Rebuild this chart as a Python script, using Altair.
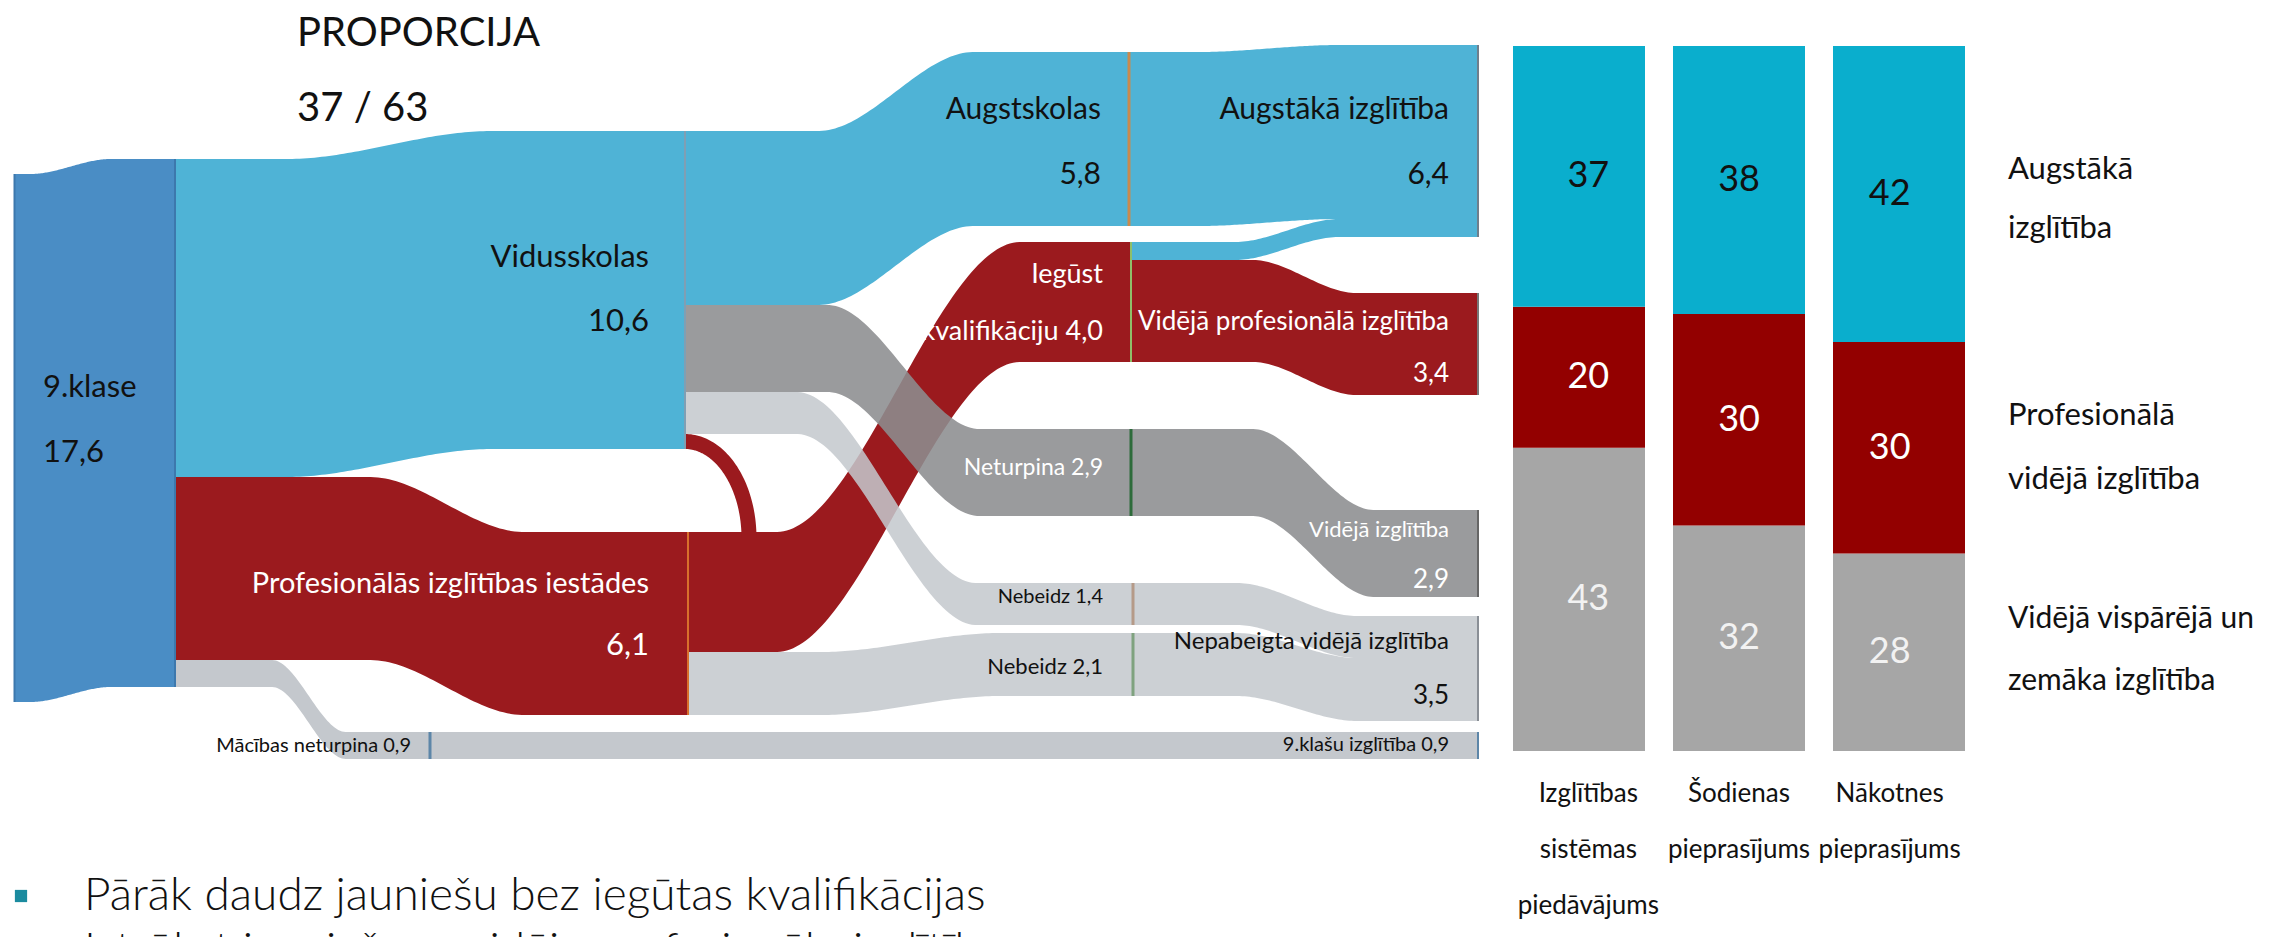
import altair as alt
import numpy as np
import pandas as pd
from collections import defaultdict

# ---------------- data ----------------
node_names = ["9.klase", "Vidusskolas", "Profesionālās izglītības iestādes", "Mācības neturpina",
              "Augstskolas", "Iegūst kvalifikāciju", "Neturpina", "Nebeidz (vidusskola)", "Nebeidz (prof.)",
              "Augstākā izglītība", "Vidējā profesionālā izglītība", "Vidējā izglītība",
              "Nepabeigta vidējā izglītība", "9.klašu izglītība"]
node_values = [17.6, 10.6, 6.1, 0.9, 5.8, 4.0, 2.9, 1.4, 2.1, 6.4, 3.4, 2.9, 3.5, 0.9]

link_source = [0, 0, 0, 1, 1, 1, 1, 2, 2, 3, 4, 5, 5, 6, 7, 8]
link_target = [1, 2, 3, 4, 6, 7, 2, 5, 8, 13, 9, 9, 10, 11, 12, 12]
link_value = [10.6, 6.1, 0.9, 5.8, 2.9, 1.4, 0.5, 4.0, 2.1, 0.9, 5.8, 0.6, 3.4, 2.9, 1.4, 2.1]
link_group = ["vid", "prof", "none", "vid", "stop", "drop", "prof", "prof", "drop", "none",
              "vid", "vid", "prof", "stop", "drop", "drop"]

bar_categories = ["Izglītības sistēmas piedāvājums", "Šodienas pieprasījums", "Nākotnes pieprasījums"]
bar_higher = [37, 38, 42]
bar_vocational = [20, 30, 30]
bar_general = [43, 32, 28]
segment_names = ["Vidējā vispārējā un zemāka izglītība", "Profesionālā vidējā izglītība", "Augstākā izglītība"]

# ---------------- layout / style ----------------
W, H = 2256, 929
XS = alt.Scale(domain=[8, 8 + W], nice=False, zero=False)
YS = alt.Scale(domain=[8, 8 + H], reverse=True, nice=False, zero=False)
PX = 30.0  # pixels per value unit

node_x = {0: 175, 1: 685, 2: 688, 3: 430, 4: 1129, 5: 1131, 6: 1131, 7: 1133, 8: 1133,
          9: 1478, 10: 1478, 11: 1478, 12: 1478, 13: 1478}
node_top = {0: 159, 1: 131, 2: 532, 3: 732, 4: 52, 5: 242, 6: 429, 7: 583, 8: 633,
            9: 45, 10: 293, 11: 510, 12: 616, 13: 732}
intake_x, intake_top = 14.5, 174
link_window = [(0.22, 0.62), (0.38, 0.68), (0.38, 0.67), (0.3, 0.65), (0.32, 0.66), (0.25, 0.65), None,
               (0.2, 0.75), (0.3, 0.7), (0.0, 1.0), (0.2, 0.6), (0.3, 0.6), (0.35, 0.65), (0.35, 0.7),
               (0.3, 0.65), (0.3, 0.65)]
LOOP = 6
loop_reach = 64
draw_order = [0, 1, 2, 9, 3, 7, 8, 4, 5, 6, 10, 11, 12, 13, 14, 15]
group_color = {"vid": "#4fb3d6", "prof": "#9b1a1e", "stop": "#8c8d90", "drop": "#c4c8cd", "none": "#c4c8cd"}
group_opacity = {"vid": 1.0, "prof": 1.0, "stop": 0.88, "drop": 0.86, "none": 1.0}
marker_color = {0: "#3d78ad", 1: "#7f9fb4", 2: "#d8702c", 3: "#5d86a8", 4: "#c98a4e", 5: "#8fbf68",
                6: "#2d6b3a", 7: "#b59a88", 8: "#7fa27f", 9: "#6f7f8c", 10: "#777777", 11: "#666666",
                12: "#8a8f96", 13: "#5d86a8"}

NARROW = "Lato"
BODY = "Lato"


def band(x0, x1, y0, y1, w, a, b, n=140):
    xs = np.linspace(x0, x1, n)
    xa, xb = x0 + a * (x1 - x0), x0 + b * (x1 - x0)
    t = np.clip((xs - xa) / max(xb - xa, 1e-6), 0, 1)
    s = t * t * (3 - 2 * t)
    yt = y0 + (y1 - y0) * s
    return pd.DataFrame({"x": xs, "y": yt, "y2": yt + w})


def area_layer(df, color, opacity=1.0):
    return alt.Chart(df).mark_area(color=color, opacity=opacity, interpolate="linear").encode(
        x=alt.X("x:Q", scale=XS, axis=None),
        y=alt.Y("y:Q", scale=YS, axis=None),
        y2="y2:Q",
    )


layers = []

# intake band (9.klase)
layers.append(area_layer(band(intake_x, node_x[0], intake_top, node_top[0], node_values[0] * PX, 0.1, 0.6),
                         "#4a8dc5"))

# stacked offsets
out_off, in_off = {}, {}
sacc, tacc = defaultdict(float), defaultdict(float)
for i, (s, t, v) in enumerate(zip(link_source, link_target, link_value)):
    out_off[i] = sacc[s]
    sacc[s] += v
    if i != LOOP:
        in_off[i] = tacc[t]
        tacc[t] += v

for i in draw_order:
    s, t, v, g = link_source[i], link_target[i], link_value[i], link_group[i]
    w = v * PX
    if i == LOOP:
        th = np.linspace(0, np.pi / 2, 60)
        ys0 = node_top[s] + out_off[i] * PX + w / 2
        ye = node_top[t] + 6
        df = pd.DataFrame({"x": node_x[s] + loop_reach * np.sin(th),
                           "y": ye - (ye - ys0) * np.cos(th), "i": np.arange(60)})
        layers.append(alt.Chart(df).mark_line(color=group_color[g], strokeWidth=w, strokeCap="butt").encode(
            x=alt.X("x:Q", scale=XS, axis=None), y=alt.Y("y:Q", scale=YS, axis=None), order="i:Q"))
        continue
    a, b = link_window[i]
    df = band(node_x[s], node_x[t], node_top[s] + out_off[i] * PX, node_top[t] + in_off[i] * PX, w, a, b)
    layers.append(area_layer(df, group_color[g], group_opacity[g]))

# node markers
mk = []
for k in range(1, len(node_names)):
    mk.append(dict(x=node_x[k], y=node_top[k], y2=node_top[k] + node_values[k] * PX, c=marker_color[k],
                   w=3 if k in (3, 4, 6, 7, 8) else 2))
mk.append(dict(x=node_x[0], y=node_top[0], y2=node_top[0] + node_values[0] * PX, c=marker_color[0], w=2))
mk.append(dict(x=intake_x, y=intake_top, y2=intake_top + node_values[0] * PX, c=marker_color[0], w=2))
mk_df = pd.DataFrame(mk)
for wv in sorted(mk_df.w.unique()):
    layers.append(alt.Chart(mk_df[mk_df.w == wv]).mark_rule(strokeWidth=float(wv)).encode(
        x=alt.X("x:Q", scale=XS, axis=None), y=alt.Y("y:Q", scale=YS, axis=None), y2="y2:Q",
        color=alt.Color("c:N", scale=None)))

# ---------------- text labels (pixel coords) ----------------
BLACK, WHITE = "#111111", "#ffffff"
labels = [
    ("PROPORCIJA", 297, 34, "left", BLACK, 40, NARROW),
    ("37 / 63", 297, 109, "left", BLACK, 40, NARROW),
    ("9.klase", 43, 388, "left", BLACK, 31, NARROW),
    ("17,6", 43, 453, "left", BLACK, 31, NARROW),
    ("Vidusskolas", 649, 258, "right", BLACK, 31, NARROW),
    ("10,6", 649, 322, "right", BLACK, 31, NARROW),
    ("Profesionālās izglītības iestādes", 649, 584, "right", WHITE, 29, NARROW),
    ("6,1", 649, 646, "right", WHITE, 31, NARROW),
    ("Mācības neturpina 0,9", 411, 746, "right", BLACK, 20, NARROW),
    ("Augstskolas", 1101, 110, "right", BLACK, 30, NARROW),
    ("5,8", 1101, 175, "right", BLACK, 30, NARROW),
    ("Augstākā izglītība", 1449, 110, "right", BLACK, 30, NARROW),
    ("6,4", 1449, 175, "right", BLACK, 30, NARROW),
    ("Iegūst", 1103, 275, "right", WHITE, 27, NARROW),
    ("kvalifikāciju  4,0", 1103, 332, "right", WHITE, 27, NARROW),
    ("Vidējā profesionālā izglītība", 1449, 322, "right", WHITE, 26, NARROW),
    ("3,4", 1449, 374, "right", WHITE, 26, NARROW),
    ("Neturpina  2,9", 1103, 468, "right", WHITE, 23, NARROW),
    ("Vidējā izglītība", 1449, 530, "right", WHITE, 22, NARROW),
    ("2,9", 1449, 580, "right", WHITE, 26, NARROW),
    ("Nebeidz 1,4", 1103, 597, "right", BLACK, 20, NARROW),
    ("Nebeidz 2,1", 1103, 667, "right", BLACK, 22, NARROW),
    ("Nepabeigta vidējā izglītība", 1449, 642, "right", BLACK, 24, NARROW),
    ("3,5", 1449, 696, "right", BLACK, 26, NARROW),
    ("9.klašu izglītība 0,9", 1449, 745, "right", BLACK, 20, NARROW),
    ("Augstākā", 2008, 170, "left", BLACK, 31, NARROW),
    ("izglītība", 2008, 229, "left", BLACK, 31, NARROW),
    ("Profesionālā", 2008, 416, "left", BLACK, 31, NARROW),
    ("vidējā izglītība", 2008, 480, "left", BLACK, 31, NARROW),
    ("Vidējā vispārējā un", 2008, 619, "left", BLACK, 30, NARROW),
    ("zemāka izglītība", 2008, 681, "left", BLACK, 30, NARROW),
]
body_labels = [
    ("Pārāk daudz jauniešu bez iegūtas kvalifikācijas", 84, 896),
    ("Iztrūkst jauniešu ar vidējo profesionālo izglītību", 84, 951),
]
lab_df = pd.DataFrame(labels, columns=["text", "x", "y", "align", "col", "fs", "font"])
for al, g in lab_df.groupby("align"):
    layers.append(alt.Chart(g).mark_text(align=al, baseline="middle", font=NARROW).encode(
        x=alt.X("x:Q", scale=XS, axis=None), y=alt.Y("y:Q", scale=YS, axis=None),
        text="text:N", color=alt.Color("col:N", scale=None), size=alt.Size("fs:Q", scale=None)))

body_df = pd.DataFrame(body_labels, columns=["text", "x", "y"])
layers.append(alt.Chart(body_df).mark_text(align="left", baseline="middle", font=BODY, fontWeight=300,
                                           fontSize=46, color="#111111").encode(
    x=alt.X("x:Q", scale=XS, axis=None), y=alt.Y("y:Q", scale=YS, axis=None), text="text:N"))
layers.append(alt.Chart(body_df).mark_square(size=150, color="#1b8b9f", opacity=1).encode(
    x=alt.X("x:Q", scale=XS, axis=None), y=alt.Y("y:Q", scale=YS, axis=None),
    xOffset=alt.value(-63)))

# ---------------- stacked bars ----------------
rows = []
for i, c in enumerate(bar_categories):
    base = 0
    for name, v in zip(segment_names, [bar_general[i], bar_vocational[i], bar_higher[i]]):
        rows.append(dict(cat=c, seg=name, v0=base, v1=base + v, mid=base + v / 2, label=str(v),
                         tc="#111111" if name == "Augstākā izglītība" else
                         ("#ffffff" if name == "Profesionālā vidējā izglītība" else "#f2f2f2")))
        base += v
bars_df = pd.DataFrame(rows)
XB = alt.Scale(domain=bar_categories, range=[1505, 1957], paddingInner=0.175, paddingOuter=0)
YB = alt.Scale(domain=[0, 100], range=[743, 38], nice=False, zero=False)
layers.append(alt.Chart(bars_df).mark_bar().encode(
    x=alt.X("cat:N", scale=XB, axis=None, sort=bar_categories),
    y=alt.Y("v0:Q", scale=YB, axis=None), y2="v1:Q",
    color=alt.Color("seg:N", legend=None,
                    scale=alt.Scale(domain=segment_names, range=["#a6a6a6", "#930000", "#0aaecd"]))))
layers.append(alt.Chart(bars_df).mark_text(font=NARROW, fontSize=36, baseline="middle").encode(
    x=alt.X("cat:N", scale=XB, axis=None, sort=bar_categories),
    y=alt.Y("mid:Q", scale=YB, axis=None), text="label:N", color=alt.Color("tc:N", scale=None)))

cat_lines = []
for c in bar_categories:
    for j, wd in enumerate(c.split(" ")):
        cat_lines.append(dict(cat=c, line=wd, ly=794 + j * 56))
cat_df = pd.DataFrame(cat_lines)
layers.append(alt.Chart(cat_df).mark_text(font=NARROW, fontSize=26, baseline="middle", color="#111111").encode(
    x=alt.X("cat:N", scale=XB, axis=None, sort=bar_categories),
    y=alt.Y("ly:Q", scale=YS, axis=None), text="line:N"))

chart = alt.layer(*layers).resolve_scale(
    x="independent", y="independent", color="independent", size="independent"
).properties(
    width=W, height=H, padding=0,
    autosize=alt.AutoSizeParams(type="none"),
    background="white",
).configure_view(stroke=None)

chart.save("out.html", embed_options={"renderer": "svg", "actions": False})
